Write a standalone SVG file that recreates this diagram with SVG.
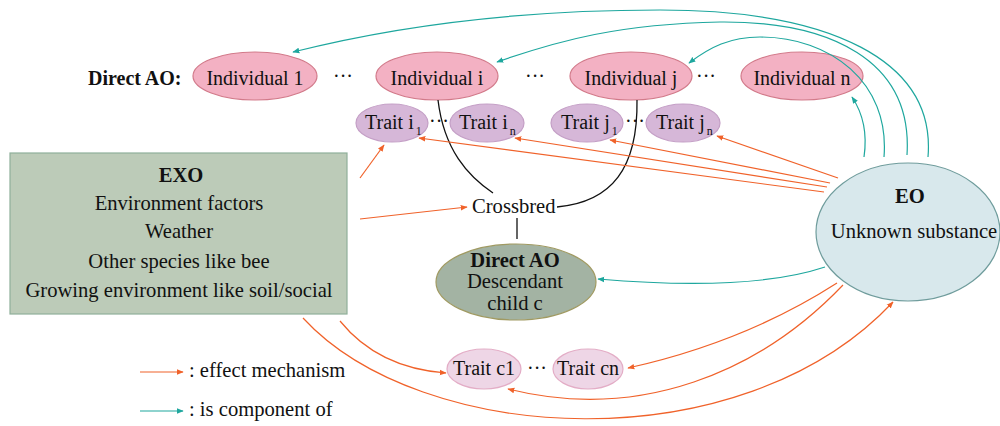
<svg xmlns="http://www.w3.org/2000/svg" width="1000" height="426" viewBox="0 0 1000 426" font-family="'Liberation Serif', 'DejaVu Serif', 'Times New Roman', serif">
  <defs>
    <marker id="arrOrange" viewBox="0 0 10 10" refX="9" refY="5" markerWidth="7" markerHeight="7" markerUnits="userSpaceOnUse" orient="auto">
      <path d="M0,1 L10,5 L0,9 z" fill="#f0622a"/>
    </marker>
    <marker id="arrTeal" viewBox="0 0 10 10" refX="9" refY="5" markerWidth="7" markerHeight="7" markerUnits="userSpaceOnUse" orient="auto">
      <path d="M0,1 L10,5 L0,9 z" fill="#1ea79e"/>
    </marker>
  </defs>
  <style>
    text { font-family: 'Liberation Serif', 'DejaVu Serif', 'Times New Roman', serif; fill: #111; }
    .lbl { font-size: 20px; }
    .big { font-size: 20.6px; }
    .mid { text-anchor: middle; }
    .b { font-weight: bold; }
    .sub { font-size: 12px; }
    .ind { fill: #f3b1c3; stroke: #d27a8a; stroke-width: 1.2; }
    .trait { fill: #d6b7d8; stroke: #c49fc6; stroke-width: 1.2; }
    .traitc { fill: #eed6e6; stroke: #e3adc6; stroke-width: 1.2; }
    .eff { fill: none; stroke: #f0622a; stroke-width: 1.2; marker-end: url(#arrOrange); }
    .comp { fill: none; stroke: #1ea79e; stroke-width: 1.2; marker-end: url(#arrTeal); }
    .cross { fill: none; stroke: #111; stroke-width: 1.3; }
  </style>

  <rect width="1000" height="426" fill="#ffffff"/>

  <text class="lbl b" x="88" y="85">Direct AO:</text>

  <!-- individuals -->
  <g id="ind1">
    <ellipse class="ind" cx="255" cy="76" rx="62" ry="24"/>
    <text class="lbl mid" x="255" y="85">Individual 1</text>
  </g>
  <g id="indI">
    <ellipse class="ind" cx="437" cy="76" rx="61" ry="24"/>
    <text class="lbl mid" x="437" y="85">Individual i</text>
  </g>
  <g id="indJ">
    <ellipse class="ind" cx="631" cy="76" rx="61" ry="24"/>
    <text class="lbl mid" x="631" y="85">Individual j</text>
  </g>
  <g id="indN">
    <ellipse class="ind" cx="802" cy="76" rx="61" ry="24"/>
    <text class="lbl mid" x="802" y="85">Individual n</text>
  </g>
  <text class="lbl mid" x="343" y="83">···</text>
  <text class="lbl mid" x="535" y="83">···</text>
  <text class="lbl mid" x="706" y="83">···</text>

  <!-- traits of individuals i and j -->
  <g id="traitI1">
    <ellipse class="trait" cx="392" cy="123" rx="36" ry="19"/>
    <text class="lbl" x="365" y="129">Trait i<tspan class="sub" dx="2" dy="6">1</tspan></text>
  </g>
  <g id="traitIn">
    <ellipse class="trait" cx="487" cy="123" rx="37" ry="19"/>
    <text class="lbl" x="459" y="129">Trait i<tspan class="sub" dx="2" dy="6">n</tspan></text>
  </g>
  <g id="traitJ1">
    <ellipse class="trait" cx="587" cy="123" rx="36" ry="19"/>
    <text class="lbl" x="561" y="129">Trait j<tspan class="sub" dx="2" dy="6">1</tspan></text>
  </g>
  <g id="traitJn">
    <ellipse class="trait" cx="683" cy="123" rx="37" ry="19"/>
    <text class="lbl" x="656" y="129">Trait j<tspan class="sub" dx="2" dy="6">n</tspan></text>
  </g>
  <text class="lbl mid" x="439" y="128">···</text>
  <text class="lbl mid" x="635" y="128">···</text>

  <!-- exogenous factors -->
  <g id="exo">
    <rect x="10" y="153" width="337" height="161" fill="#bccbb8" stroke="#8fb09a" stroke-width="1.2"/>
    <text class="big mid b" x="181" y="182">EXO</text>
    <text class="big mid" x="179" y="210">Environment factors</text>
    <text class="big mid" x="179" y="238">Weather</text>
    <text class="big mid" x="179" y="268">Other species like bee</text>
    <text class="big mid" x="179" y="297">Growing environment like soil/social</text>
  </g>

  <!-- crossbreeding -->
  <g id="crossbred">
    <text class="big" x="472" y="213">Crossbred</text>
  </g>

  <g id="child">
    <ellipse cx="516" cy="282" rx="80" ry="38" fill="#a3b3a3" stroke="#a09a62" stroke-width="1.2"/>
    <text class="big mid b" x="515" y="267">Direct AO</text>
    <text class="big mid" x="515" y="288">Descendant</text>
    <text class="big mid" x="515" y="310">child c</text>
  </g>

  <!-- unknown substance -->
  <g id="eo">
    <ellipse cx="908" cy="232" rx="92" ry="69" fill="#d8e8ec" stroke="#6f9c9c" stroke-width="1.2"/>
    <text class="big mid b" x="910" y="203">EO</text>
    <text class="big mid" x="914" y="238">Unknown substance</text>
  </g>

  <!-- traits of the child -->
  <g id="traitC1">
    <ellipse class="traitc" cx="484" cy="369" rx="37" ry="20"/>
    <text class="lbl mid" x="484" y="375">Trait c1</text>
  </g>
  <g id="traitCn">
    <ellipse class="traitc" cx="588" cy="369" rx="35" ry="20"/>
    <text class="lbl mid" x="588" y="375">Trait cn</text>
  </g>
  <text class="lbl mid" x="537" y="375">···</text>

  <!-- legend -->
  <g id="legend">
    <line class="eff" x1="140" y1="372" x2="183" y2="372"/>
    <text class="big" x="189" y="377">: effect mechanism</text>
    <line class="comp" x1="140" y1="411" x2="183" y2="411"/>
    <text class="big" x="189" y="416">: is component of</text>
  </g>

  <!-- connectors -->
  <g id="connectors">
    <!-- crossbreeding lines -->
    <path class="cross" d="M438,100 C 444,150 468,176 493,193"/>
    <path class="cross" d="M637,100 C 638,168 612,202 557,207"/>
    <line class="cross" x1="517" y1="218" x2="517" y2="239"/>

    <!-- effect mechanism -->
    <path class="eff" d="M360,178 L384,145"/>
    <path class="eff" d="M360,219 L467,207"/>
    <path class="eff" d="M824,192 L419,138"/>
    <path class="eff" d="M827,187 L515,138"/>
    <path class="eff" d="M830,183 L610,140"/>
    <path class="eff" d="M838,178 L717,136"/>
    <path class="eff" d="M837,283 Q 745,342 628,368"/>
    <path class="eff" d="M843,285 C 760,372 640,422 508,389"/>
    <path class="eff" d="M340,321 Q 378,368 446,373"/>
    <path class="eff" d="M303,318 C 420,445 740,465 893,302"/>

    <!-- component of -->
    <path class="comp" d="M928,157 C 936,60 830,10 660,10 C 520,10 400,25 293,52"/>
    <path class="comp" d="M907,155 C 913,60 830,21 720,22 C 620,24 560,40 497,62"/>
    <path class="comp" d="M884,157 C 890,82 830,37 760,37 C 730,37 710,47 689,63"/>
    <path class="comp" d="M864,157 C 868,130 862,112 852,97"/>
    <path class="comp" d="M825,267 Q 750,292 598,279"/>
  </g>
</svg>
